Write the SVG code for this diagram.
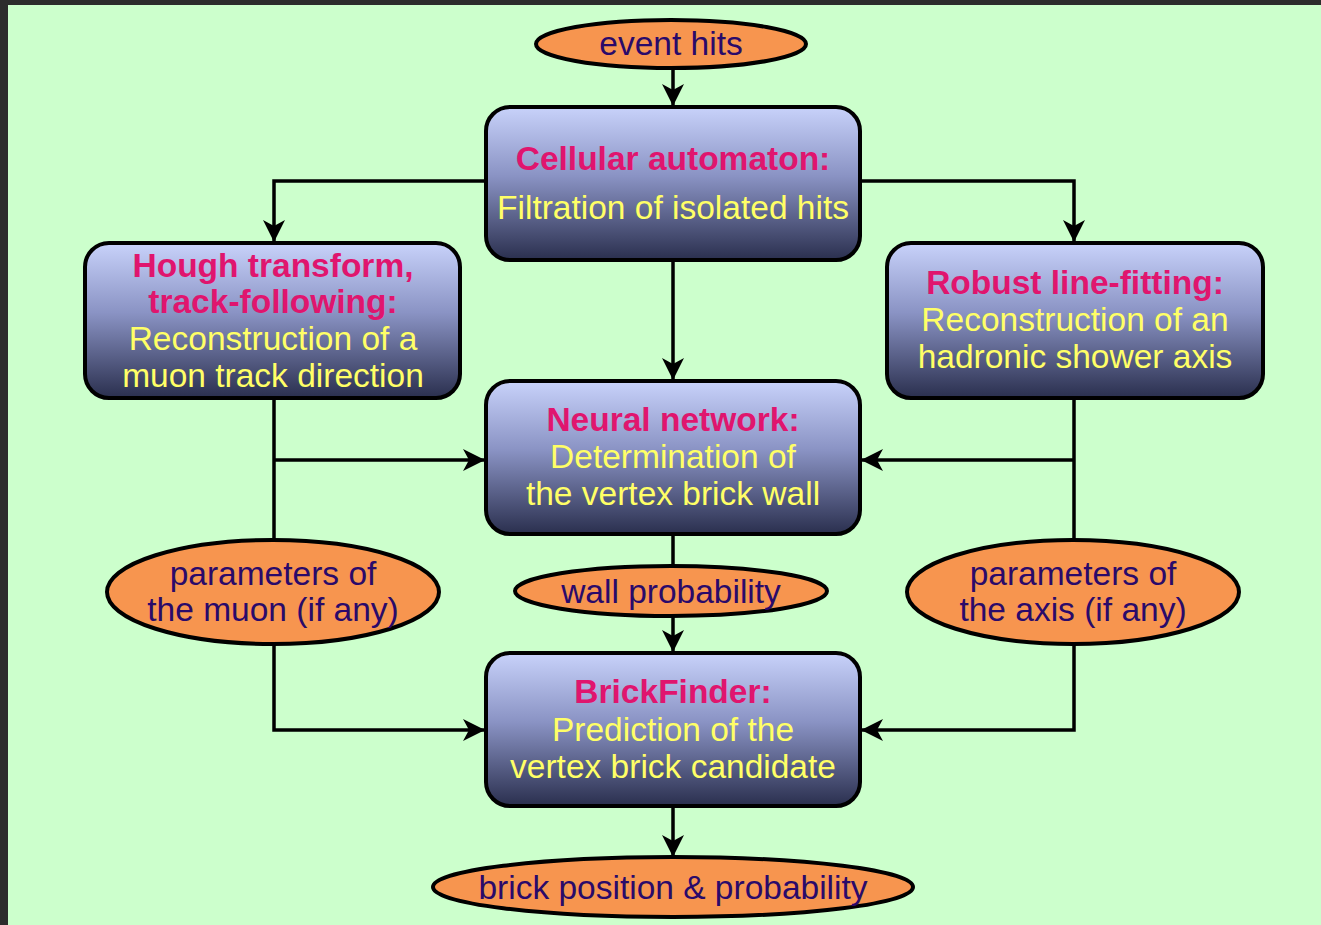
<svg xmlns="http://www.w3.org/2000/svg" width="1321" height="925" viewBox="0 0 1321 925">
<defs>
<linearGradient id="boxg" x1="0" y1="0" x2="0" y2="1">
<stop offset="0" stop-color="#c8d2fa"/>
<stop offset="0.45" stop-color="#8a93c4"/>
<stop offset="1" stop-color="#2a2f4e"/>
</linearGradient>
<marker id="arr" viewBox="0 0 22 22" refX="21" refY="11" markerWidth="22" markerHeight="22" markerUnits="userSpaceOnUse" orient="auto">
<path d="M0,0 L22,11 L0,22 L6,11 z" fill="#000"/>
</marker>
<style>
.box{fill:url(#boxg);stroke:#000;stroke-width:4}
.ell{fill:#f7954f;stroke:#000;stroke-width:4}
.t{font-family:"Liberation Sans",Arial,sans-serif;font-size:33.5px;text-anchor:middle}
.h{fill:#e0156e;font-weight:bold}
.y{fill:#ffff66}
.e{fill:#2a0a6a}
.c{fill:none;stroke:#000;stroke-width:3.5}
</style>
</defs>
<rect x="0" y="0" width="1321" height="925" fill="#2c2c2c"/>
<rect x="8" y="5" width="1313" height="920" fill="#ccffcc"/>
<g id="connectors">
<line class="c" x1="673" y1="68" x2="673" y2="105" marker-end="url(#arr)"/>
<polyline class="c" points="486,181 274,181 274,241" marker-end="url(#arr)"/>
<polyline class="c" points="860,181 1074,181 1074,241" marker-end="url(#arr)"/>
<line class="c" x1="673" y1="260" x2="673" y2="379" marker-end="url(#arr)"/>
<line class="c" x1="274" y1="398" x2="274" y2="540"/>
<line class="c" x1="274" y1="460" x2="484" y2="460" marker-end="url(#arr)"/>
<line class="c" x1="1074" y1="398" x2="1074" y2="540"/>
<line class="c" x1="1074" y1="460" x2="862" y2="460" marker-end="url(#arr)"/>
<line class="c" x1="673" y1="534" x2="673" y2="566"/>
<line class="c" x1="673" y1="617" x2="673" y2="651" marker-end="url(#arr)"/>
<polyline class="c" points="274,644 274,730 484,730" marker-end="url(#arr)"/>
<polyline class="c" points="1074,644 1074,730 862,730" marker-end="url(#arr)"/>
<line class="c" x1="673" y1="806" x2="673" y2="856" marker-end="url(#arr)"/>
</g>
<g id="event-hits">
<ellipse class="ell" cx="671" cy="44" rx="135" ry="24"/>
<text class="t e" x="671" y="55">event hits</text>
</g>
<g id="cellular">
<rect class="box" x="486" y="107" width="374" height="153" rx="24"/>
<text class="t h" x="673" y="170">Cellular automaton:</text>
<text class="t y" x="673" y="219">Filtration of isolated hits</text>
</g>
<g id="hough">
<rect class="box" x="85" y="243" width="375" height="155" rx="24"/>
<text class="t h" x="273" y="277">Hough transform,</text>
<text class="t h" x="273" y="313">track-following:</text>
<text class="t y" x="273" y="350">Reconstruction of a</text>
<text class="t y" x="273" y="387">muon track direction</text>
</g>
<g id="robust">
<rect class="box" x="887" y="243" width="376" height="155" rx="24"/>
<text class="t h" x="1075" y="294">Robust line-fitting:</text>
<text class="t y" x="1075" y="331">Reconstruction of an</text>
<text class="t y" x="1075" y="368">hadronic shower axis</text>
</g>
<g id="neural">
<rect class="box" x="486" y="381" width="374" height="153" rx="24"/>
<text class="t h" x="673" y="431">Neural network:</text>
<text class="t y" x="673" y="468">Determination of</text>
<text class="t y" x="673" y="505">the vertex brick wall</text>
</g>
<g id="muon-params">
<ellipse class="ell" cx="273" cy="592" rx="166" ry="52"/>
<text class="t e" x="273" y="585">parameters of</text>
<text class="t e" x="273" y="621">the muon (if any)</text>
</g>
<g id="wall-prob">
<ellipse class="ell" cx="671" cy="591" rx="156" ry="25"/>
<text class="t e" x="671" y="603">wall probability</text>
</g>
<g id="axis-params">
<ellipse class="ell" cx="1073" cy="592" rx="166" ry="52"/>
<text class="t e" x="1073" y="585">parameters of</text>
<text class="t e" x="1073" y="621">the axis (if any)</text>
</g>
<g id="brickfinder">
<rect class="box" x="486" y="653" width="374" height="153" rx="24"/>
<text class="t h" x="673" y="703">BrickFinder:</text>
<text class="t y" x="673" y="741">Prediction of the</text>
<text class="t y" x="673" y="778">vertex brick candidate</text>
</g>
<g id="brick-pos">
<ellipse class="ell" cx="673" cy="887" rx="240" ry="30"/>
<text class="t e" x="673" y="899">brick position &amp; probability</text>
</g>
</svg>
